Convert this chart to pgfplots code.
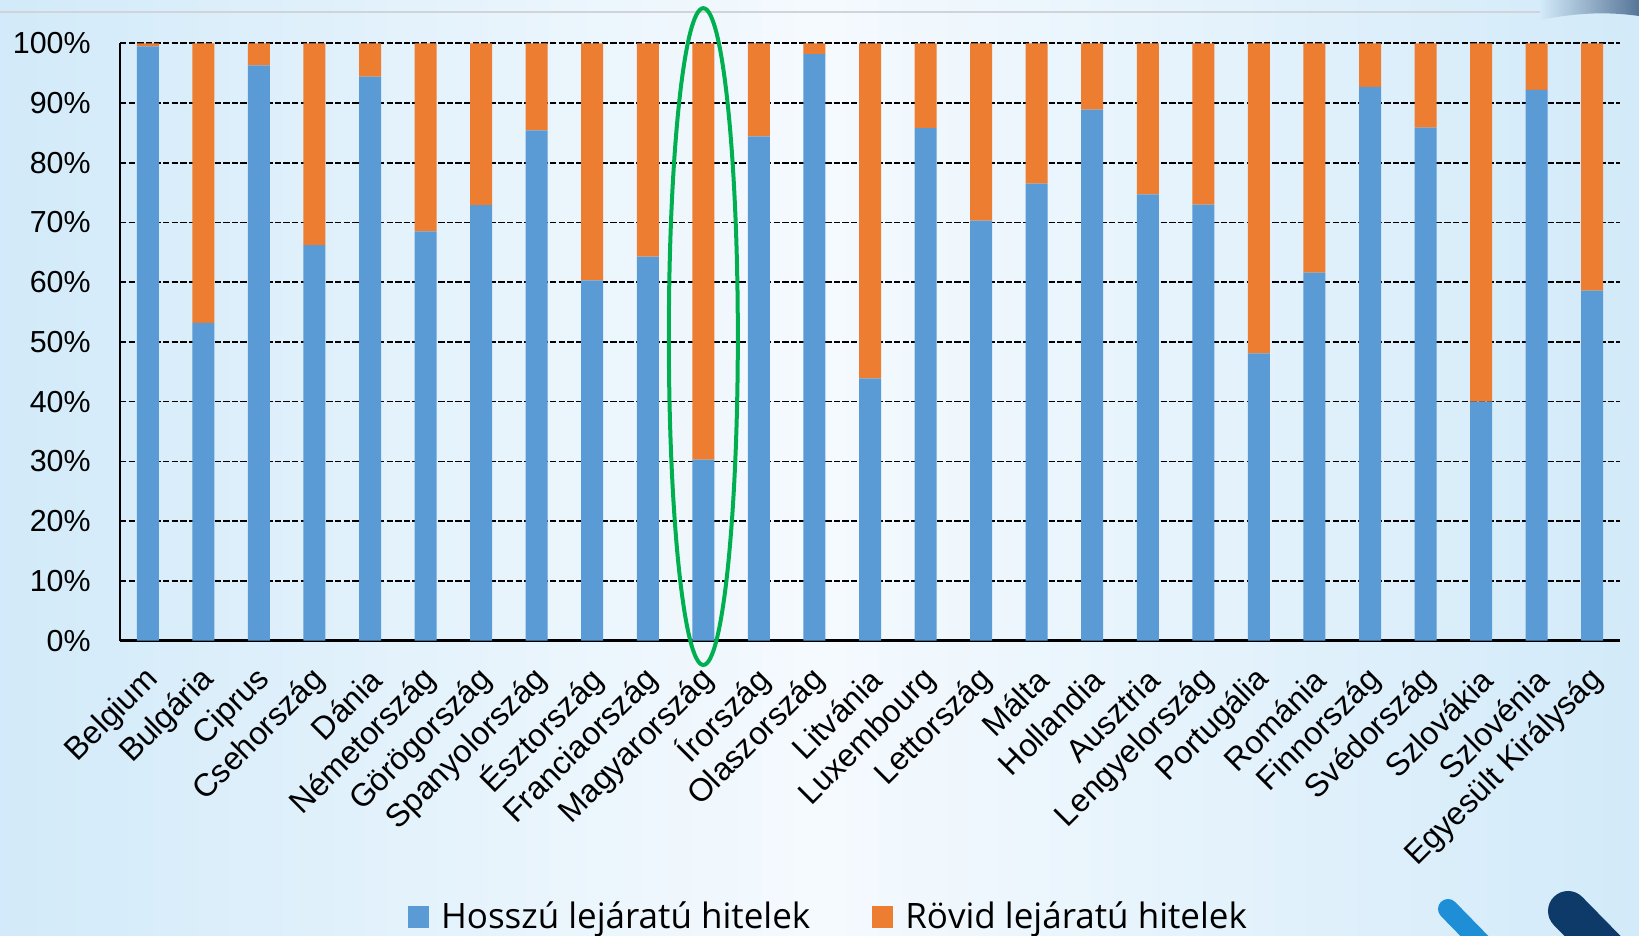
\documentclass[border=0pt]{standalone}
\usepackage{fontspec}
\setmainfont{Liberation Sans}
\newfontfamily\legendfont{Open Sans}
\usepackage{pgfplots}
\pgfplotsset{compat=1.18}
\definecolor{cblue}{HTML}{5B9BD5}
\definecolor{corange}{HTML}{ED7D31}
\definecolor{cgreen}{HTML}{00B050}
\definecolor{bgedge}{RGB}{210,234,249}
\definecolor{bgmid}{RGB}{245,250,254}
\definecolor{swlight}{HTML}{1E8FD6}
\definecolor{swdark}{HTML}{0E3A6A}
\definecolor{topline}{RGB}{208,212,216}
\begin{document}
\begin{tikzpicture}
\useasboundingbox (0pt,0pt) rectangle (819.5pt,468pt);
\shade[left color=bgedge, right color=bgedge, middle color=bgmid] (0pt,0pt) rectangle (819.5pt,468pt);
\draw[line width=1pt, color=topline] (0pt,462.2pt) -- (780pt,462.2pt);
\shade[left color=bgedge, right color=swdark!70] (770pt,458pt) .. controls (790pt,462pt) and (805pt,462pt) .. (819.5pt,460pt) -- (819.5pt,468pt) -- (770pt,468pt) -- cycle;
\draw[line width=10pt, line cap=round, color=swlight] (724pt,13.5pt) -- (745pt,-8pt);
\draw[line width=20pt, line cap=round, color=swdark] (784pt,12.5pt) -- (810pt,-14pt);
\begin{axis}[
  at={(60pt,147.7pt)}, anchor=south west,
  scale only axis, width=750pt, height=298.65pt,
  xmin=-0.5, xmax=26.5, ymin=0, ymax=100,
  ybar stacked, bar width=11pt,
  axis x line*=bottom, axis y line*=left,
  x axis line style={line width=1.7pt},
  y axis line style={line width=1pt},
  tick style={draw=none},
  ytick={0,10,...,100},
  yticklabels={0\%,10\%,20\%,30\%,40\%,50\%,60\%,70\%,80\%,90\%,100\%},
  ymajorgrids, grid style={dashed, black, line width=0.8pt, dash pattern=on 3.2pt off 1.1pt},
  xtick={0,...,26},
  xticklabels={Belgium,Bulgária,Ciprus,Csehország,Dánia,Németország,Görögország,Spanyolország,Észtország,Franciaország,Magyarország,Írország,Olaszország,Litvánia,Luxembourg,Lettország,Málta,Hollandia,Ausztria,Lengyelország,Portugália,Románia,Finnország,Svédország,Szlovákia,Szlovénia,Egyesült Királyság},
  yticklabel style={font=\fontsize{15.2}{18}\selectfont, anchor=east, inner sep=0pt},
  yticklabel shift=14.5pt,
  xticklabel style={font=\fontsize{16}{19}\selectfont, xshift=3pt, rotate=45, anchor=east, inner sep=0pt},
  xticklabel shift=17pt,
  clip=false,
  legend style={at={(axis description cs:0.473,-0.462)}, anchor=center, draw=none, fill=none,
    font=\legendfont\fontsize{17.5}{20}\selectfont, legend columns=2,
    /tikz/every even column/.append style={column sep=29pt}},
  legend image code/.code={\fill[#1] (0pt,-5.5pt) rectangle (10.5pt,5.5pt); \path (14.5pt,0pt);},
]
\addplot[fill=cblue, draw=none] coordinates {
(0,99.5) (1,53.2) (2,96.3) (3,66.2) (4,94.4) (5,68.5) (6,72.9) (7,85.4) (8,60.3) (9,64.3)
(10,30.3) (11,84.4) (12,98.2) (13,43.9) (14,85.8) (15,70.3) (16,76.5) (17,88.9) (18,74.7)
(19,73.0) (20,48.1) (21,61.6) (22,92.7) (23,85.9) (24,40.0) (25,92.2) (26,58.6)};
\addplot[fill=corange, draw=none] coordinates {
(0,0.5) (1,46.8) (2,3.7) (3,33.8) (4,5.6) (5,31.5) (6,27.1) (7,14.6) (8,39.7) (9,35.7)
(10,69.7) (11,15.6) (12,1.8) (13,56.1) (14,14.2) (15,29.7) (16,23.5) (17,11.1) (18,25.3)
(19,27.0) (20,51.9) (21,38.4) (22,7.3) (23,14.1) (24,60.0) (25,7.8) (26,41.4)};
\legend{Hosszú lejáratú hitelek, Rövid lejáratú hitelek}
\draw[color=cgreen, line width=2pt] (axis cs:10,50.9) ellipse [x radius=17.25pt, y radius=164.2pt];
\end{axis}
\end{tikzpicture}
\end{document}
